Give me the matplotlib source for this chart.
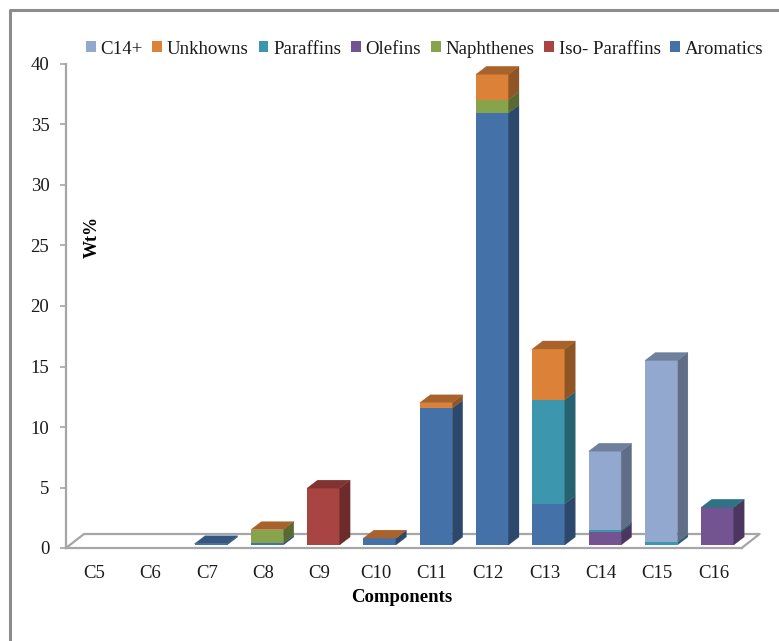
import numpy as np
import matplotlib
matplotlib.use("Agg")
import matplotlib.pyplot as plt
from matplotlib.colors import to_rgb
from matplotlib.lines import Line2D
from matplotlib.patches import Patch, Polygon
from matplotlib.transforms import Affine2D

plt.rcParams['font.family'] = ['Liberation Serif', 'DejaVu Serif']

components = ['C5', 'C6', 'C7', 'C8', 'C9', 'C10', 'C11', 'C12', 'C13', 'C14', 'C15', 'C16']

# wt% per carbon number, stacked from the bottom in this order
aromatics = [0, 0, 0.1, 0.15, 0, 0.55, 11.3, 35.7, 3.4, 0, 0, 0]
iso_paraffins = [0, 0, 0, 0, 4.7, 0, 0, 0, 0, 0, 0, 0]
naphthenes = [0, 0, 0, 1.1, 0, 0, 0, 1.1, 0, 0, 0, 0]
olefins = [0, 0, 0, 0, 0, 0, 0, 0, 0, 1.1, 0, 3.1]
paraffins = [0, 0, 0, 0, 0, 0, 0, 0, 8.6, 0.15, 0.25, 0.02]
unknowns = [0, 0, 0, 0.02, 0, 0.02, 0.45, 2.1, 4.2, 0, 0, 0]
c14_plus = [0, 0, 0, 0, 0, 0, 0, 0, 0, 6.5, 15.0, 0]

names = ['Aromatics', 'Iso- Paraffins', 'Naphthenes', 'Olefins', 'Paraffins', 'Unkhowns', 'C14+']
series = [aromatics, iso_paraffins, naphthenes, olefins, paraffins, unknowns, c14_plus]
colors = ['#4471a8', '#a84442', '#87a34c', '#735392', '#3c97ae', '#dc8238', '#92a8cf']

GRAY = '#a6a6a6'
W, H = 779, 641


def shade(color, f):
    return tuple(c * f for c in to_rgb(color))


fig = plt.figure(figsize=(W / 100, H / 100), dpi=100)
ax = fig.add_axes([66 / W, (H - 548) / H, 675.6 / W, 484 / H])
ax.set_xlim(-0.5, 11.5)
ax.set_ylim(0, 40)
ax.patch.set_alpha(0)

# sizes of the fake 3d box, converted from pixels to data units
px_x = 12 / 675.6
px_y = 40 / 484
bar_w = 32.5 * px_x
depth_x = 10.5 * px_x
depth_y = 8 * px_y
floor_x = 18 * px_x
floor_y = 14 * px_y

# floor of the box
ax.plot([-0.5, -0.5 + floor_x, 11.5 + floor_x, 11.5], [0, floor_y, floor_y, 0],
        color=GRAY, lw=1.6, clip_on=False, zorder=1)

# bars stand slightly inside the floor
shift = ax.transData + Affine2D().translate(4, 3)
x = np.arange(len(components))
bottom = np.zeros(len(components))

for vals, col in zip(series, colors):
    vals = np.array(vals, dtype=float)
    ax.bar(x, vals, bar_w, bottom=bottom, color=col, edgecolor='none',
           transform=shift, clip_on=False, zorder=3)
    for xi, b, v in zip(x, bottom, vals):
        if v <= 0:
            continue
        r = xi + bar_w / 2
        side = [(r, b), (r + depth_x, b + depth_y), (r + depth_x, b + v + depth_y), (r, b + v)]
        ax.add_patch(Polygon(side, closed=True, fc=shade(col, 0.65), ec=shade(col, 0.65), lw=0.2,
                             transform=shift, clip_on=False, zorder=3))
    bottom += vals

# caps take the colour of the topmost series in each stack
for i, xi in enumerate(x):
    if bottom[i] <= 0:
        continue
    top_col = [c for s, c in zip(series, colors) if s[i] > 0][-1]
    l, r = xi - bar_w / 2, xi + bar_w / 2
    t = bottom[i]
    cap = [(l, t), (r, t), (r + depth_x, t + depth_y), (l + depth_x, t + depth_y)]
    ax.add_patch(Polygon(cap, closed=True, fc=shade(top_col, 0.76), ec=shade(top_col, 0.76), lw=0.2,
                         transform=shift, clip_on=False, zorder=4))

for s in ['top', 'right']:
    ax.spines[s].set_visible(False)
for s in ['left', 'bottom']:
    ax.spines[s].set_color(GRAY)
    ax.spines[s].set_linewidth(1.6)

ax.set_xticks(x, components)
ax.set_yticks(range(0, 41, 5))
ax.tick_params(axis='x', length=0, pad=12, labelsize=13.5, labelcolor='#1a1a1a')
ax.tick_params(axis='y', length=4.5, width=1.2, color=GRAY, pad=7.5, labelsize=13.5, labelcolor='#1a1a1a')

ax.text(92, H - 237, 'Wt%', transform=None, rotation=90, ha='center', va='center',
        fontsize=13, fontweight='bold')
fig.text(402 / W, (H - 598) / H, 'Components', ha='center', va='center', fontsize=13.5, fontweight='bold')

handles = [Patch(fc=c, ec=c, lw=0) for c in colors][::-1]
fig.legend(handles, names[::-1], ncol=7, loc='center', bbox_to_anchor=(424.5 / W, (H - 49) / H),
           frameon=False, fontsize=13.6, handlelength=0.52, handleheight=0.52,
           handletextpad=0.25, columnspacing=0.52, labelcolor='#1a1a1a', borderpad=0)

# outer frame, open on the right and at the bottom
fig.add_artist(Line2D([10 / W, 10 / W, 1], [0, (H - 10) / H, (H - 10) / H], color='#8c8c8c', lw=2.2))

fig.savefig('out.png', dpi=100)
